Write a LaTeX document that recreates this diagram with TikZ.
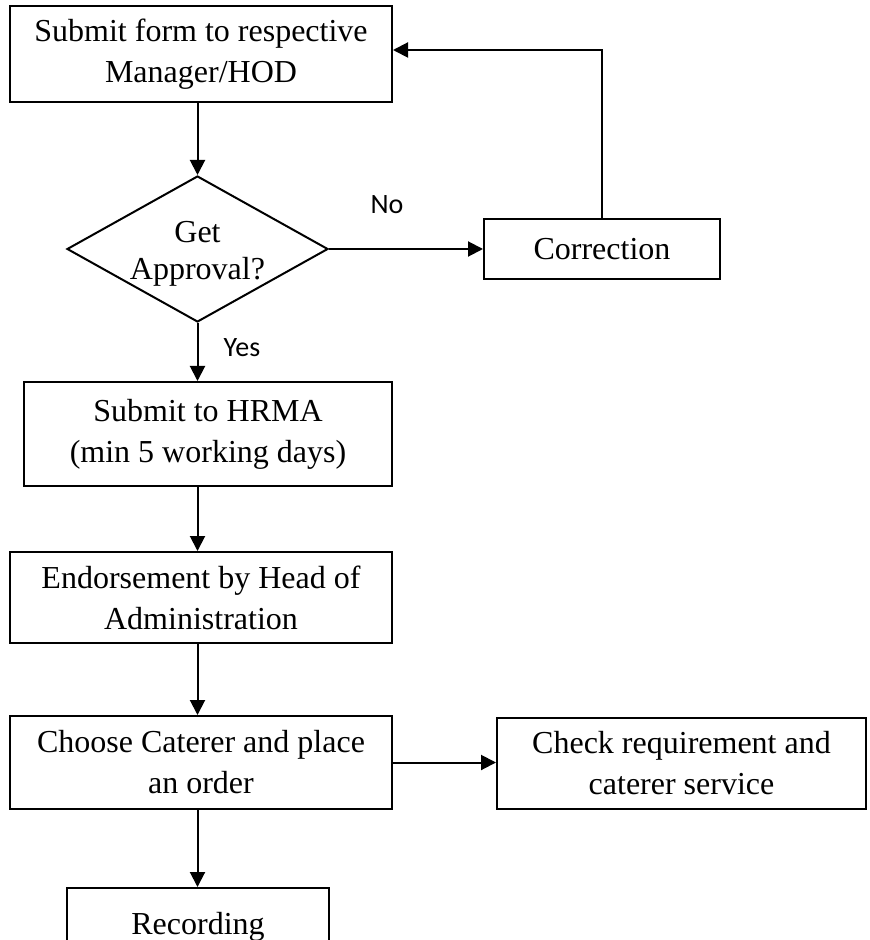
\documentclass[tikz,border=0pt]{standalone}
\usepackage{fontspec}
\setmainfont{Liberation Serif}
\newfontfamily\calibrifont{Carlito}
\usetikzlibrary{arrows.meta,shapes.geometric}
\tikzset{
  >={Triangle[length=7.5pt,width=7.5pt]},
  bx/.style={rectangle,draw,align=center,inner sep=0pt,font=\fontsize{16}{20.5}\selectfont},
  dec/.style={diamond,draw,inner sep=0pt,aspect=1.79},
  dectxt/.style={align=center,inner sep=0pt,font=\fontsize{16}{18.5}\selectfont},
  lbl/.style={inner sep=0pt,font=\calibrifont\fontsize{14}{16}\selectfont},
  every picture/.style={line width=1pt},
}
\begin{document}
\begin{tikzpicture}[x=0.5pt,y=-0.5pt]
\useasboundingbox (0,0) rectangle (869,940);
\node[bx,minimum width=191pt,minimum height=48pt] (form) at (201,54) {Submit form to respective\\Manager/HOD};
\node[dec,minimum width=130.5pt,minimum height=73pt] (appr) at (197.5,249) {};
\node[dectxt] (apprtext) at ([yshift=-2.25pt]appr.center) {Get\\Approval?};
\node[bx,minimum width=118pt,minimum height=30pt] (corr) at (602,249) {Correction};
\node[bx,minimum width=184pt,minimum height=52pt] (hrma) at (208,434) {Submit to HRMA\\(min 5 working days)};
\node[bx,minimum width=191pt,minimum height=45.5pt] (endo) at (201,597.5) {Endorsement by Head of\\Administration};
\node[bx,minimum width=191pt,minimum height=46.5pt] (cater) at (201,762.5) {Choose Caterer and place\\an order};
\node[bx,minimum width=184.5pt,minimum height=45.5pt] (check) at (681.5,763.5) {Check requirement and\\caterer service};
\node[bx,minimum width=131pt,minimum height=38.5pt] (rec) at (198,926.5) {Recording};
\node[lbl] (no) at (387,205) {No};
\node[lbl] (yes) at (242,348) {Yes};
% main flow
\draw[->] (form.south -| appr.north) -- (appr.north);
\draw[->] (appr.south) -- (appr.south |- hrma.north);
\draw[->] (hrma.south -| appr.south) -- (endo.north -| appr.south);
\draw[->] (endo.south -| appr.south) -- (cater.north -| appr.south);
\draw[->] (cater.south -| appr.south) -- (rec.north -| appr.south);
% side branches
\draw[->] (appr.east) -- (corr.west);
\draw[->] (corr.north) |- ([yshift=2pt]form.east);
\draw[->] (cater.east) -- (cater.east -| check.west);
\end{tikzpicture}
\end{document}
